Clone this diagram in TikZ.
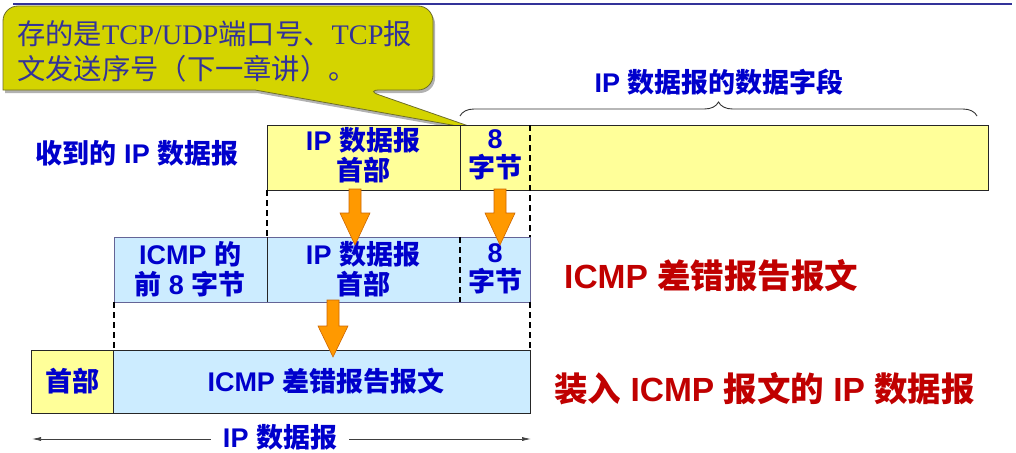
\documentclass[tikz,border=0pt]{standalone}
\usepackage{fontspec}
\setmainfont{Liberation Sans}
\newfontfamily\cjk{Noto Sans CJK SC}
\newfontfamily\serifl{Liberation Serif}
\usetikzlibrary{decorations.pathreplacing,arrows.meta}
\newcommand\C[1]{{\cjk #1}}
\definecolor{tblue}{RGB}{0,0,204}
\definecolor{tred}{RGB}{192,0,0}
\definecolor{yfill}{RGB}{255,255,153}
\definecolor{bfill}{RGB}{204,236,255}
\definecolor{callfill}{RGB}{212,212,0}
\definecolor{callline}{RGB}{110,110,40}
\definecolor{calltext}{RGB}{51,51,153}
\definecolor{topline}{RGB}{51,51,153}
\definecolor{orangef}{RGB}{255,153,0}
\definecolor{oranged}{RGB}{204,102,0}
\definecolor{rowtwo}{RGB}{100,100,150}
\begin{document}
\begin{tikzpicture}[x=1pt,y=-1pt,
  bt/.style={text=tblue,font=\bfseries\fontsize{27}{29.5}\selectfont,align=center,inner sep=0pt},
  rt/.style={text=tred,font=\bfseries\fontsize{33.5}{36}\selectfont,inner sep=0pt,anchor=west},
  ybox/.style={draw=black!85,fill=yfill,line width=0.9pt},
  bbox/.style={draw=rowtwo,fill=bfill,line width=0.9pt},
  kbox/.style={draw=black!85,fill=bfill,line width=0.9pt},
  div/.style={draw=black!85,line width=0.9pt},
  ddiv/.style={draw=black,line width=1.1pt,dash pattern=on 6pt off 4pt},
  blockarrow/.style={fill=orangef,draw=oranged,line width=0.6pt},
  callout/.style={fill=callfill,draw=callline,line width=0.8pt},
  dimline/.style={draw=black!75,line width=0.7pt,{Latex[length=9pt,width=4pt]}-{Latex[length=9pt,width=4pt]}},
]
\useasboundingbox (0,0) rectangle (1016,452);
\fill[white] (0,0) rectangle (1016,452);
% top rule
\draw[topline,line width=2.5pt] (13,4) -- (1012,4);

% callout shadow and body
\begin{scope}[shift={(2,3)}]
\fill[black,opacity=0.3] (3,50) [rounded corners=15pt] -- (3,6) -- (433,6) -- (433,90) -- (365,90) [sharp corners] -- (480,130) -- (255,90) -- (3,90) [rounded corners=15pt] -- cycle;
\end{scope}
\path[callout] (3,50) [rounded corners=15pt] -- (3,6) -- (433,6) -- (433,90) -- (365,90) [sharp corners] -- (480,130) -- (255,90) -- (3,90) [rounded corners=15pt] -- cycle;
\node[text=calltext,font=\serifl\fontsize{28.3}{35}\selectfont,align=left,anchor=west,inner sep=0pt] (calltxt) at (17,51)
  {\C{存的是}TCP/UDP\C{端口号、}TCP\C{报}\\\C{文发送序号（下一章讲）。}};

% brace and label
\coordinate (bl) at (460,116);
\coordinate (br) at (977,116);
\draw[black!80,line width=0.9pt,decorate,decoration={brace,amplitude=14pt}] (bl) -- (br);
\node[bt] (dflabel) at (719,82) {IP \C{数据报的数据字段}};

% row 1
\node[bt] (recv) at (137,153) {\C{收到的} IP \C{数据报}};
\draw[ybox] (267,125) rectangle (988,190);
\draw[div] (460,125) -- (460,190);
\draw[ddiv] (530,125) -- (530,237);
\node[bt] (r1h) at (363,155) {IP \C{数据报}\\\C{首部}};
\node[bt] (r1e) at (495,155) {8\\\C{字节}};

% connectors row1 -> row2
\draw[ddiv] (267,190) -- (267,237);

% row 2
\draw[bbox] (114,237) rectangle (530,302);
\draw[div] (267,237) -- (267,302);
\draw[ddiv] (460,237) -- (460,302);
\node[bt] (r2i) at (190,269) {ICMP \C{的}\\\C{前} 8 \C{字节}};
\node[bt] (r2h) at (363,269) {IP \C{数据报}\\\C{首部}};
\node[bt] (r2e) at (495,269) {8\\\C{字节}};
\node[rt] (lab2) at (564,276) {ICMP \C{差错报告报文}};

% arrows row1 -> row2
\draw[blockarrow] (349,189) -- (361,189) -- (361,213) -- (370,213) -- (355,245) -- (340,213) -- (349,213) -- cycle;
\draw[blockarrow] (494,189) -- (506,189) -- (506,213) -- (515,213) -- (500,245) -- (485,213) -- (494,213) -- cycle;

% connectors row2 -> row3
\draw[ddiv] (114,302) -- (114,350);
\draw[ddiv] (530,302) -- (530,350);

% row 3
\draw[kbox] (31,350) rectangle (530,413);
\fill[yfill] (31,350) rectangle (113,413);
\draw[draw=black!85,line width=0.9pt] (31,350) rectangle (530,413);
\draw[div] (113,350) -- (113,413);
\node[bt] (r3h) at (72,381) {\C{首部}};
\node[bt] (r3m) at (326,381) {ICMP \C{差错报告报文}};
\node[rt] (lab3) at (554,389) {\C{装入} ICMP \C{报文的} IP \C{数据报}};

% arrow row2 -> row3
\draw[blockarrow] (327,300) -- (339,300) -- (339,326) -- (348,326) -- (333,357) -- (318,326) -- (327,326) -- cycle;

% dimension arrow
\coordinate (dl) at (32,439);
\coordinate (dr) at (531,439);
\draw[dimline] (dl) -- (dr);
\node[bt,fill=white,inner xsep=12pt,inner ysep=1pt] (dimlab) at (280,437) {IP \C{数据报}};
\end{tikzpicture}
\end{document}
